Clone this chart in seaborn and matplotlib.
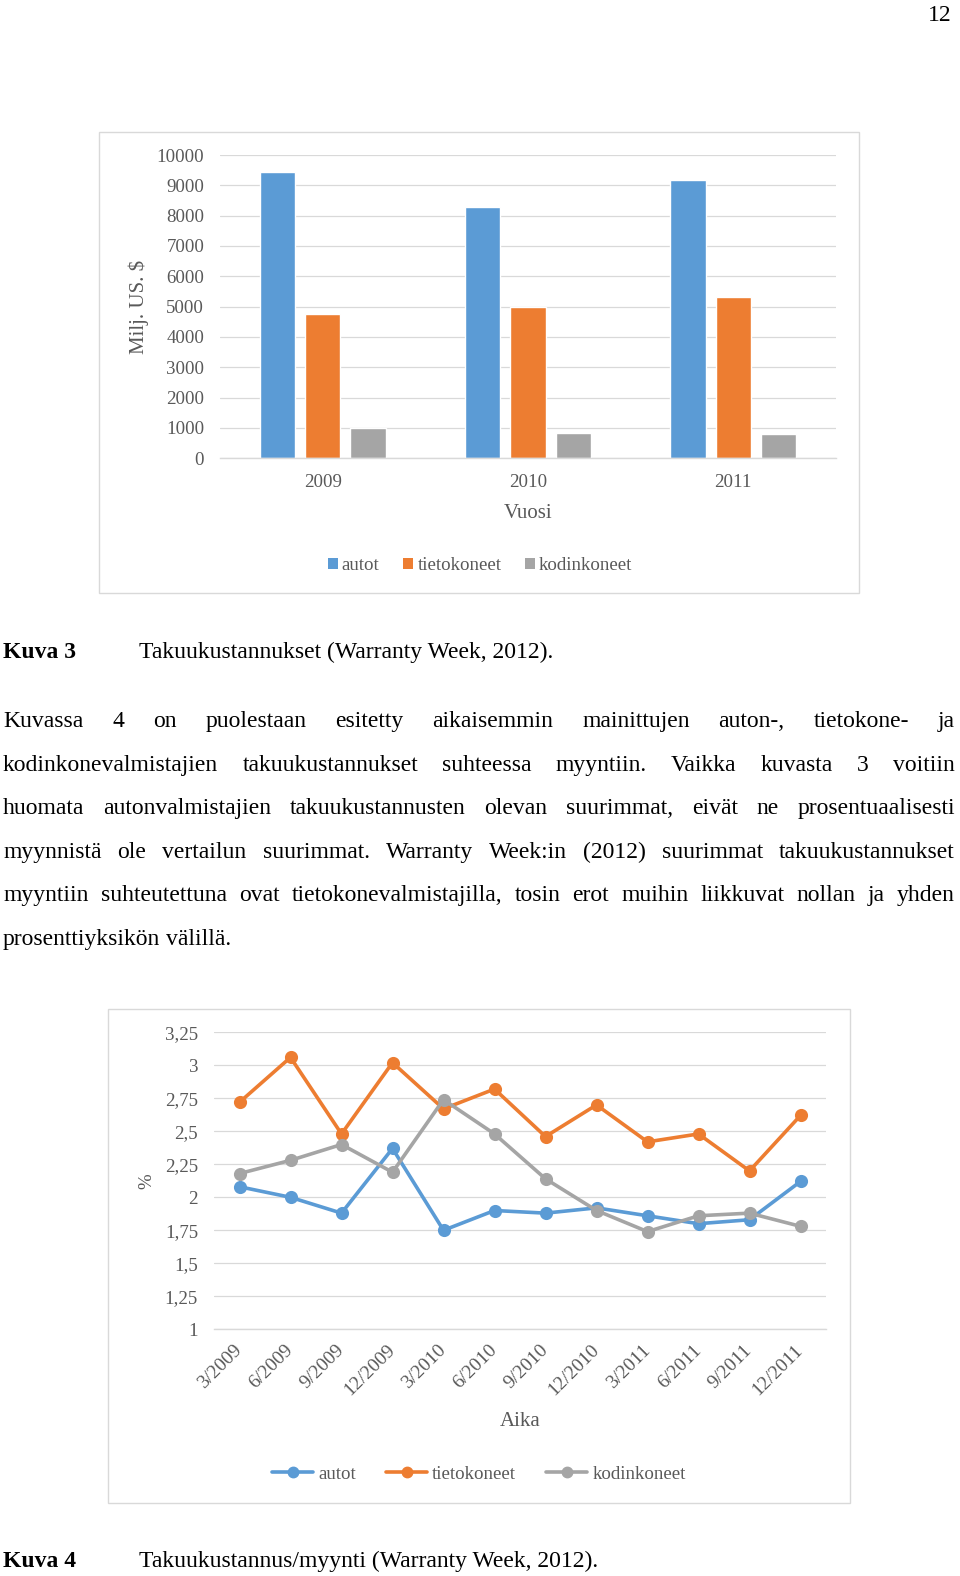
import matplotlib
matplotlib.use('Agg')
import matplotlib.pyplot as plt
import seaborn as sns
import pandas as pd
from matplotlib.lines import Line2D
from matplotlib.patches import Rectangle

# ---------------- data ----------------
vuodet = ['2009', '2010', '2011']
sarjat = ['autot', 'tietokoneet', 'kodinkoneet']
kust_autot = [9450, 8270, 9170]
kust_tieto = [4770, 4980, 5330]
kust_kodin = [990, 825, 805]
bar_yticks = [0, 1000, 2000, 3000, 4000, 5000, 6000, 7000, 8000, 9000, 10000]

ajat = ['3/2009', '6/2009', '9/2009', '12/2009', '3/2010', '6/2010',
        '9/2010', '12/2010', '3/2011', '6/2011', '9/2011', '12/2011']
osuus_autot = [2.08, 2.00, 1.88, 2.37, 1.75, 1.90, 1.88, 1.92, 1.86, 1.80, 1.83, 2.12]
osuus_tieto = [2.72, 3.06, 2.48, 3.02, 2.67, 2.82, 2.46, 2.70, 2.42, 2.48, 2.20, 2.62]
osuus_kodin = [2.18, 2.28, 2.40, 2.19, 2.74, 2.48, 2.14, 1.90, 1.74, 1.86, 1.88, 1.78]
line_yticks = [1, 1.25, 1.5, 1.75, 2, 2.25, 2.5, 2.75, 3, 3.25]
line_ytick_labels = ['1', '1,25', '1,5', '1,75', '2', '2,25', '2,5', '2,75', '3', '3,25']

kuva3_teksti = 'Takuukustannukset (Warranty Week, 2012).'
kuva4_teksti = 'Takuukustannus/myynti (Warranty Week, 2012).'
kappale = [
    "Kuvassa 4 on puolestaan esitetty aikaisemmin mainittujen auton-, tietokone- ja",
    "kodinkonevalmistajien takuukustannukset suhteessa myyntiin. Vaikka kuvasta 3 voitiin",
    "huomata autonvalmistajien takuukustannusten olevan suurimmat, eivät ne prosentuaalisesti",
    "myynnistä ole vertailun suurimmat. Warranty Week:in (2012) suurimmat takuukustannukset",
    "myyntiin suhteutettuna ovat tietokonevalmistajilla, tosin erot muihin liikkuvat nollan ja yhden",
    "prosenttiyksikön välillä.",
]

colors = ['#5B9BD5', '#ED7D31', '#A5A5A5']
TXT = '#595959'
GRID = '#D9D9D9'
FONT = ['Liberation Serif', 'DejaVu Serif']

sns.set_theme(style='white')
plt.rcParams['font.family'] = FONT

W, H = 960, 1576
fig = plt.figure(figsize=(W / 100, H / 100), dpi=100)
fig.patch.set_facecolor('white')


def fx(px):
    return px / W


def fy(py):
    return 1 - py / H


# ---------------- bar chart ----------------
df_bar = pd.DataFrame({
    'vuosi': vuodet * 3,
    'kustannus': kust_autot + kust_tieto + kust_kodin,
    'sarja': [s for s in sarjat for _ in vuodet],
})
L1, T1, R1, B1 = 220.2, 155.0, 835.8, 458.3
ax1 = fig.add_axes([fx(L1), fy(B1), (R1 - L1) / W, (B1 - T1) / H])
sns.barplot(data=df_bar, x='vuosi', y='kustannus', hue='sarja', palette=colors,
            hue_order=sarjat, width=0.662, gap=0.22, saturation=1, legend=False,
            errorbar=None, ax=ax1)
ax1.set_xlim(-0.5, 2.5)
ax1.set_ylim(0, 10000)
ax1.set_yticks(bar_yticks)
ax1.set_yticklabels([str(v) for v in bar_yticks])
ax1.yaxis.grid(True, color=GRID, lw=0.9)
ax1.set_axisbelow(True)
for s in ['top', 'right', 'left']:
    ax1.spines[s].set_visible(False)
ax1.spines['bottom'].set_color(GRID)
ax1.spines['bottom'].set_linewidth(1.0)
ax1.tick_params(axis='both', length=0, colors=TXT, labelsize=13.6)
ax1.tick_params(axis='y', pad=11.5)
ax1.tick_params(axis='x', pad=11.5)
ax1.set_xlabel('Vuosi', fontsize=15, color=TXT)
ax1.set_ylabel('Milj. US. $', fontsize=15, color=TXT)
ax1.xaxis.set_label_coords(0.5, -(514 - B1) / (B1 - T1))
ax1.xaxis.label.set_va('center')
ax1.yaxis.set_label_coords(-(L1 - 139) / (R1 - L1), 0.5)
ax1.yaxis.label.set_va('center')

h1 = [Rectangle((0, 0), 1, 1, fc=c, ec='none') for c in colors]
fig.legend(h1, sarjat, loc='center', bbox_to_anchor=(fx(480), fy(565.5)), ncol=3,
           frameon=False, prop={'family': FONT, 'size': 13.6}, labelcolor=TXT,
           handlelength=0.55, handleheight=0.55, handletextpad=0.2, columnspacing=1.25,
           borderaxespad=0, borderpad=0)

fig.add_artist(Rectangle((fx(99), fy(593.3)), (859 - 99) / W, (593.3 - 132.3) / H,
                         transform=fig.transFigure, fill=False, ec=GRID, lw=1.0))

# ---------------- line chart ----------------
df_line = pd.DataFrame({
    'aika': ajat * 3,
    'osuus': osuus_autot + osuus_tieto + osuus_kodin,
    'sarja': [s for s in sarjat for _ in ajat],
})
L2, T2, R2, B2 = 214.0, 1032.3, 826.0, 1329.3
ax2 = fig.add_axes([fx(L2), fy(B2), (R2 - L2) / W, (B2 - T2) / H])
sns.pointplot(data=df_line, x='aika', y='osuus', hue='sarja', hue_order=sarjat,
              palette=colors, markers='o', linestyles='-', errorbar=None,
              legend=False, markersize=7.5, linewidth=2.6, ax=ax2)
ax2.set_xlim(-0.5, 11.5)
ax2.set_ylim(1, 3.25)
ax2.set_yticks(line_yticks)
ax2.set_yticklabels(line_ytick_labels)
ax2.yaxis.grid(True, color=GRID, lw=0.9)
ax2.set_axisbelow(True)
for s in ['top', 'right', 'left']:
    ax2.spines[s].set_visible(False)
ax2.spines['bottom'].set_color(GRID)
ax2.spines['bottom'].set_linewidth(1.0)
ax2.tick_params(axis='both', length=0, colors=TXT, labelsize=13.6)
ax2.tick_params(axis='y', pad=11.5)
ax2.tick_params(axis='x', pad=13, labelsize=14)
for lab in ax2.get_xticklabels():
    lab.set_rotation(45)
    lab.set_ha('right')
    lab.set_va('center')
    lab.set_rotation_mode('anchor')
ax2.set_xlabel('Aika', fontsize=15, color=TXT)
ax2.set_ylabel('%', fontsize=13.6, color=TXT)
ax2.xaxis.set_label_coords(0.5, -(1422 - B2) / (B2 - T2))
ax2.xaxis.label.set_va('center')
ax2.yaxis.set_label_coords(-(L2 - 147) / (R2 - L2), 0.5)
ax2.yaxis.label.set_va('center')

h2 = [Line2D([0], [0], color=c, lw=2.6, marker='o', ms=7.5) for c in colors]
fig.legend(h2, sarjat, loc='center', bbox_to_anchor=(fx(479), fy(1474)), ncol=3,
           frameon=False, prop={'family': FONT, 'size': 13.6}, labelcolor=TXT,
           handlelength=2.17, handletextpad=0.26, columnspacing=1.6,
           borderaxespad=0, borderpad=0)

fig.add_artist(Rectangle((fx(107.7), fy(1502.7)), (850 - 107.7) / W, (1502.7 - 1009.3) / H,
                         transform=fig.transFigure, fill=False, ec=GRID, lw=1.0))

# ---------------- page text ----------------
BODY = 17
fig.text(fx(952), fy(21), '12', ha='right', va='baseline', fontsize=BODY, color='black')

fig.text(fx(3), fy(658.3), 'Kuva 3', ha='left', va='baseline', fontsize=BODY,
         fontweight='bold', color='black')
fig.text(fx(138.7), fy(658.3), kuva3_teksti, ha='left', va='baseline', fontsize=BODY,
         color='black')
fig.text(fx(3), fy(1566.7), 'Kuva 4', ha='left', va='baseline', fontsize=BODY,
         fontweight='bold', color='black')
fig.text(fx(138.7), fy(1566.7), kuva4_teksti, ha='left', va='baseline', fontsize=BODY,
         color='black')

renderer = fig.canvas.get_renderer()
_h1 = fig.text(0, 0, 'a a', fontsize=BODY)
_h2 = fig.text(0, 0, 'aa', fontsize=BODY)
space_w = (_h1.get_window_extent(renderer=renderer).width
           - _h2.get_window_extent(renderer=renderer).width)
_h1.remove()
_h2.remove()

left_px, right_px = 3.0, 955.0
base0, pitch = 727.3, 43.5
for i, line in enumerate(kappale):
    words = line.split(' ')
    y = fy(base0 + i * pitch)
    texts = [fig.text(0, y, w, ha='left', va='baseline', fontsize=BODY, color='black')
             for w in words]
    widths = [t.get_window_extent(renderer=renderer).width for t in texts]
    last = (i == len(kappale) - 1)
    if last or len(words) == 1:
        gap = space_w
    else:
        gap = (right_px - left_px - sum(widths)) / (len(words) - 1)
    x = left_px
    for t, w in zip(texts, widths):
        t.set_x(fx(x))
        x += w + gap

fig.savefig('out.png', dpi=100, facecolor='white')
